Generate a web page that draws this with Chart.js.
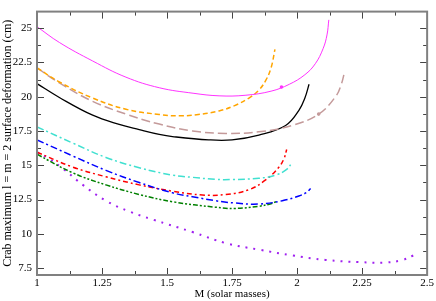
<!DOCTYPE html>
<html>
<head>
<meta charset="utf-8">
<script src="https://cdn.jsdelivr.net/npm/chart.js@4"></script>
<style>
  html, body { margin: 0; padding: 0; background: #fff; }
  #wrap { width: 436px; height: 301px; }
</style>
</head>
<body>
<div id="wrap"><canvas id="myChart" width="436" height="301"></canvas></div>
<script>
// ticks
const xTicks = [1, 1.25, 1.5, 1.75, 2, 2.25, 2.5];
const yTicks = [7.5, 10, 12.5, 15, 17.5, 20, 22.5, 25];

// curves (mass, deformation)
const massMagenta = [1.0, 1.086, 1.214, 1.342, 1.47, 1.6, 1.7, 1.8, 1.9, 1.97, 2.03, 2.07, 2.1, 2.115, 2.122];
const defMagenta  = [25.1, 23.95, 22.6, 21.42, 20.65, 20.25, 20.06, 20.1, 20.4, 20.9, 21.6, 22.4, 23.5, 24.5, 25.6];

const massOrange = [1.0, 1.086, 1.214, 1.342, 1.47, 1.55, 1.62, 1.7, 1.76, 1.815, 1.853, 1.88, 1.9, 1.915];
const defOrange  = [22.1, 21.07, 19.9, 19.08, 18.7, 18.6, 18.7, 18.96, 19.35, 19.9, 20.48, 21.2, 22.1, 23.45];

const massRosy = [1.0, 1.086, 1.214, 1.342, 1.47, 1.598, 1.726, 1.853, 1.981, 2.083, 2.148, 2.17, 2.183];
const defRosy  = [22.1, 21.0, 19.66, 18.73, 18.0, 17.5, 17.32, 17.44, 17.9, 18.73, 20.0, 20.9, 21.84];

const massBlack = [1.0, 1.086, 1.214, 1.316, 1.393, 1.47, 1.521, 1.66, 1.75, 1.853, 1.956, 2.007, 2.03, 2.046];
const defBlack  = [20.95, 19.94, 18.65, 17.98, 17.6, 17.25, 17.09, 16.85, 16.85, 17.2, 17.9, 19.0, 19.9, 20.9];

const massCyan = [1.0, 1.137, 1.265, 1.393, 1.521, 1.598, 1.687, 1.75, 1.853, 1.918, 1.96, 1.981];
const defCyan  = [17.8, 16.62, 15.57, 14.82, 14.28, 14.12, 13.97, 13.96, 14.05, 14.28, 14.7, 15.22];

const massBlue = [1.0, 1.137, 1.265, 1.393, 1.521, 1.598, 1.687, 1.76, 1.853, 1.943, 2.007, 2.035, 2.052];
const defBlue  = [16.85, 15.68, 14.63, 13.74, 12.99, 12.71, 12.41, 12.25, 12.17, 12.41, 12.76, 13.0, 13.3];

const massRed = [1.0, 1.137, 1.265, 1.393, 1.521, 1.636, 1.726, 1.815, 1.879, 1.93, 1.95, 1.96];
const defRed  = [15.95, 14.87, 14.16, 13.57, 13.11, 12.83, 12.87, 13.22, 13.93, 14.86, 15.5, 16.15];

const massGreen = [1.0, 1.137, 1.265, 1.393, 1.521, 1.687, 1.76, 1.853, 1.9, 1.92];
const defGreen  = [15.8, 14.45, 13.57, 12.87, 12.34, 11.94, 11.85, 12.01, 12.2, 12.35];

const massPurple = [1.0, 1.048, 1.1, 1.176, 1.265, 1.355, 1.444, 1.598, 1.726, 1.853, 1.981, 2.109, 2.237, 2.34, 2.403, 2.448];
const defPurple  = [15.95, 15.45, 14.75, 13.57, 12.41, 11.63, 11.05, 10.13, 9.32, 8.85, 8.43, 8.1, 7.94, 7.91, 8.08, 8.43];

// single marker dots on two curves
const markMass = [1.94, 2.083];
const markDef  = [20.7, 18.73];

const pts = (xs, ys) => xs.map((x, i) => ({ x: x, y: ys[i] }));

const serie = (xs, ys, color, dash, width) => ({
  data: pts(xs, ys),
  borderColor: color,
  borderWidth: width,
  borderDash: dash,
  pointRadius: 0,
  showLine: true,
  fill: false,
  tension: 0.4
});

// frame + inward ticks on all four sides
const framePlugin = {
  id: 'frame',
  afterDraw(chart) {
    const { ctx, chartArea: a, scales } = chart;
    const xs = scales.x, ys = scales.y;
    ctx.save();
    ctx.strokeStyle = '#444';
    ctx.lineWidth = 1;
    ctx.beginPath();
    for (let v = 1; v <= 2.5001; v += 0.125) {
      const px = Math.round(xs.getPixelForValue(v)) + 0.5;
      const major = Math.abs(v * 4 - Math.round(v * 4)) < 1e-6;
      const len = major ? 7 : 4;
      ctx.moveTo(px, a.bottom); ctx.lineTo(px, a.bottom - len);
      ctx.moveTo(px, a.top); ctx.lineTo(px, a.top + len);
    }
    for (let v = 7.5; v <= 26; v += 1.25) {
      const py = Math.round(ys.getPixelForValue(v)) + 0.5;
      const major = Math.abs(v / 2.5 - Math.round(v / 2.5)) < 1e-6;
      const len = major ? 7 : 4;
      ctx.moveTo(a.left, py); ctx.lineTo(a.left + len, py);
      ctx.moveTo(a.right, py); ctx.lineTo(a.right - len, py);
    }
    ctx.stroke();
    ctx.strokeStyle = '#808080';
    ctx.lineWidth = 2;
    ctx.strokeRect(a.left, a.top, a.right - a.left, a.bottom - a.top);
    ctx.restore();
  }
};

const fmt = v => String(+(+v).toFixed(2));

new Chart(document.getElementById('myChart'), {
  type: 'scatter',
  data: {
    datasets: [
      serie(massMagenta, defMagenta, '#ff33ff', [], 1),
      serie(massOrange, defOrange, '#ffa500', [5, 3], 1.5),
      serie(massRosy, defRosy, '#c49a9a', [9, 4], 1.5),
      serie(massBlack, defBlack, '#000000', [], 1.3),
      serie(massCyan, defCyan, '#40e0d0', [7, 3, 2, 3], 1.5),
      serie(massBlue, defBlue, '#0000ff', [7, 3, 2, 3], 1.5),
      serie(massRed, defRed, '#ff0000', [5, 3, 2, 3], 1.5),
      serie(massGreen, defGreen, '#008000', [5, 2, 2, 2, 2, 2], 1.5),
      serie(massPurple, defPurple, '#a020f0', [2, 6], 2),
      {
        data: pts(markMass, markDef),
        pointRadius: 1.8,
        pointBackgroundColor: ['#ff33ff', '#c49a9a'],
        pointBorderWidth: 0,
        showLine: false
      }
    ]
  },
  options: {
    responsive: false,
    animation: false,
    layout: { padding: { left: 0, right: 8, top: 2, bottom: 0 } },
    plugins: { legend: { display: false }, tooltip: { enabled: false } },
    scales: {
      x: {
        type: 'linear',
        min: 1,
        max: 2.5,
        afterBuildTicks: s => { s.ticks = xTicks.map(v => ({ value: v })); },
        afterFit: s => { s.height = 26; },
        grid: { display: false, drawTicks: false },
        border: { display: false },
        ticks: {
          callback: fmt,
          maxRotation: 0,
          autoSkip: false,
          padding: 2,
          color: '#000',
          font: { family: 'Liberation Serif', size: 11 }
        },
        title: {
          display: true,
          text: 'M (solar masses)',
          color: '#000',
          padding: { top: -1, bottom: 0 },
          font: { family: 'Liberation Serif', size: 11 }
        }
      },
      y: {
        type: 'linear',
        min: 7,
        max: 26.2,
        afterBuildTicks: s => { s.ticks = yTicks.map(v => ({ value: v })); },
        afterFit: s => { s.width = 37; },
        grid: { display: false, drawTicks: false },
        border: { display: false },
        ticks: {
          callback: fmt,
          autoSkip: false,
          padding: 5,
          color: '#000',
          font: { family: 'Liberation Serif', size: 11 }
        },
        title: {
          display: true,
          text: 'Crab maximum l = m = 2 surface deformation (cm)',
          color: '#000',
          padding: { top: 1, bottom: 0 },
          font: { family: 'Liberation Serif', size: 12 }
        }
      }
    }
  },
  plugins: [framePlugin]
});
</script>
</body>
</html>
